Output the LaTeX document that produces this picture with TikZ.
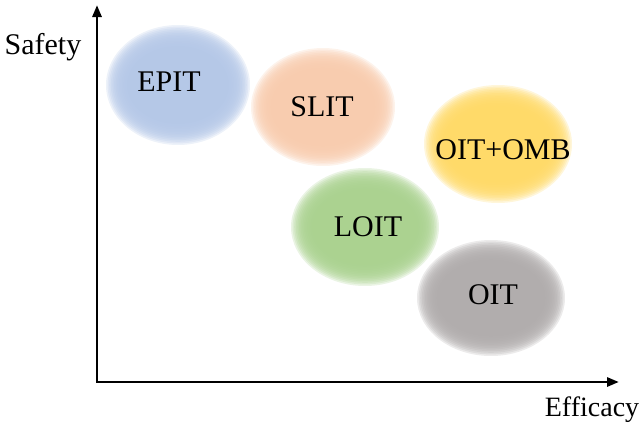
\documentclass[tikz,border=0pt]{standalone}
\usepackage{fontspec}
\setmainfont{Liberation Serif}
\usepackage{tikz}
\usetikzlibrary{arrows.meta, positioning}
\definecolor{epitblue}{HTML}{B4C7E7}
\definecolor{slitpeach}{HTML}{F8CBAD}
\definecolor{ombyellow}{HTML}{FFD966}
\definecolor{loitgreen}{HTML}{A9D18E}
\definecolor{oitgray}{HTML}{AFABAB}

\begin{document}
\begin{tikzpicture}[x=1pt,y=-1pt,
        axisline/.style={line width=2.8pt, line cap=rect, -{Triangle[length=12pt,width=9pt]}},
        txt/.style={inner sep=0pt, font=\fontsize{30}{32}\selectfont},
        haze/.style={fill opacity=0.24, draw=none}]
        \useasboundingbox (0,0) rectangle (643,431);

        % soft blobs
        \foreach \cx/\cy/\rx/\ry/\col in {178/85/72/60/epitblue, 323/107/72/59/slitpeach,
                498/144/74/59/ombyellow, 365/227/74/59/loitgreen, 491/298/74/58/oitgray}
            \foreach \k in {0,...,13}
                \fill[haze, \col] (\cx,\cy) ellipse ({\rx-1.6*\k} and {\ry-1.6*\k});

        \node[txt]  (epit)     at (169,82)   {EPIT};
        \node[txt]  (slit)     at (322,107)  {SLIT};
        \node[txt]  (oitomb)   at (503,150)  {OIT+OMB};
        \node[txt]  (loit)     at (368,227)  {LOIT};
        \node[txt]  (oit)      at (493,295)  {OIT};

        % axes
        \coordinate (origin) at (97,382);
        \coordinate (ytop)   at (97,5);
        \coordinate (xend)   at (619,382);
        \draw[axisline] (origin) -- (ytop);
        \draw[axisline] (origin) -- (xend);

        \node[txt]  (safety)   at (43,47)    {Safety};
        \node[txt, font=\fontsize{28}{30}\selectfont]  (efficacy) at (592,410)   {Efficacy};
    \end{tikzpicture}
\end{document}
